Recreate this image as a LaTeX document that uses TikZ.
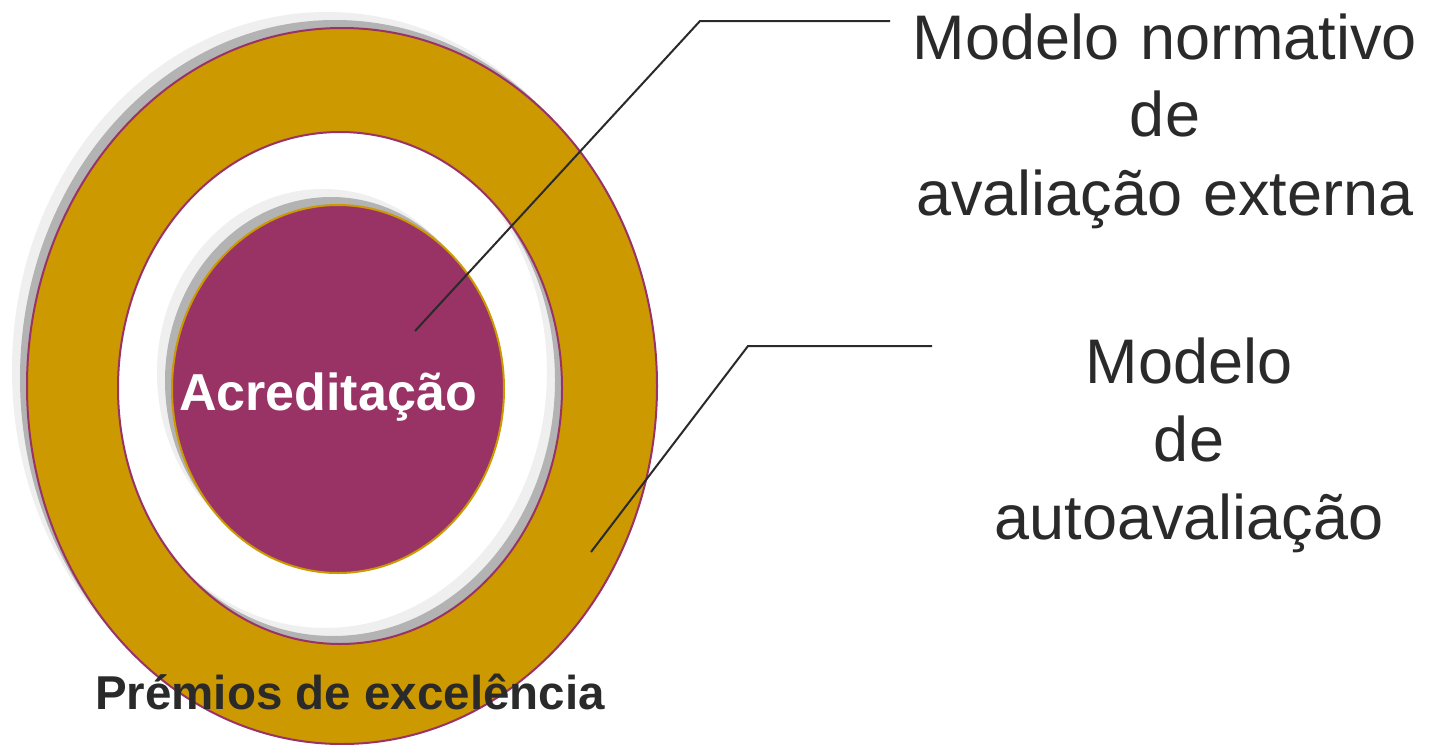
\documentclass[tikz,border=0pt]{standalone}
\usepackage{fontspec}
\setmainfont{Liberation Sans}
\definecolor{gold}{HTML}{CC9900}
\definecolor{plum}{HTML}{993366}
\definecolor{shdark}{HTML}{B3B3B3}
\definecolor{shlight}{HTML}{EFEFEF}
\definecolor{ink}{HTML}{2A2A2A}
\tikzset{
  ringpath/.style={even odd rule},
  leader/.style={draw=ink, line width=1pt, line join=miter},
  bigtext/.style={font=\fontsize{31.5pt}{39pt}\selectfont, text=ink, align=center, text width=300pt, inner sep=0pt, anchor=base},
  boldlabel/.style={font=\bfseries\fontsize{#1}{#1}\selectfont, inner sep=0pt, anchor=base},
}
\begin{document}
\begin{tikzpicture}[x=0.5pt, y=-0.5pt]
  \useasboundingbox (0,0) rectangle (1429,744);
  \fill[white] (0,0) rectangle (1429,744);
  % ring shadows
  \fill[shlight, ringpath] (327,370) ellipse [x radius=315, y radius=358] (325,372) ellipse [x radius=222, y radius=256];
  \fill[shdark, ringpath] (335,378) ellipse [x radius=315, y radius=358] (333,380) ellipse [x radius=222, y radius=256];
  % ring
  \fill[gold, ringpath] (342,386) ellipse [x radius=315, y radius=358] (340,388) ellipse [x radius=222, y radius=256];
  \draw[plum, line width=1pt] (342,386) ellipse [x radius=315, y radius=358];
  \draw[plum, line width=1pt] (340,388) ellipse [x radius=222, y radius=256];
  % core shadows
  \fill[shlight] (323,373) ellipse [x radius=166, y radius=184];
  \fill[shdark] (331,381) ellipse [x radius=166, y radius=184];
  % core
  \draw[gold, fill=plum, line width=1pt] (338,389) ellipse [x radius=166, y radius=184];

  % labels
  \node[boldlabel=26pt, text=white] (acr) at (328,410) {Acreditação};
  \node[boldlabel=23.75pt, text=ink] (prem) at (350,709) {Prémios de excelência};
  \node[bigtext] (ext) at (1165,59) {Modelo normativo\\de\\avaliação externa};
  \node[bigtext] (auto) at (1189,383) {Modelo\\de\\autoavaliação};

  % leader lines
  \coordinate (a1) at (415,331);
  \coordinate (a2) at (700,21);
  \coordinate (a3) at (890,21);
  \coordinate (b1) at (591,552);
  \coordinate (b2) at (748,346);
  \coordinate (b3) at (932,346);
  \draw[leader] (a1) -- (a2) -- (a3);
  \draw[leader] (b1) -- (b2) -- (b3);
\end{tikzpicture}
\end{document}
